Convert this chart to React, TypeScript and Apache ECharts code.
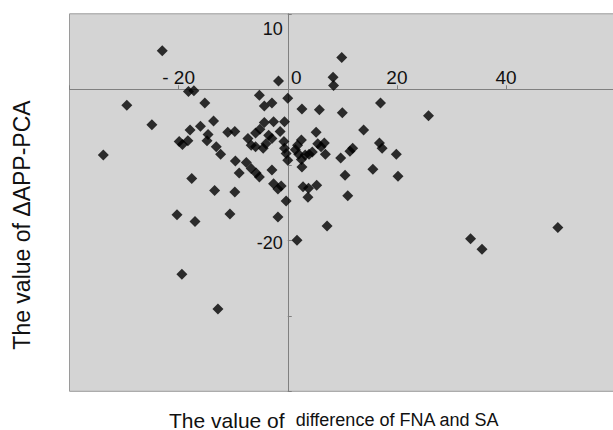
import React, { useEffect, useRef } from "react";
import * as echarts from "echarts";

// Difference of FNA and SA (x) vs ΔAPP-PCA (y)
const xValues: number[] = [
  -23.0, -29.5, -24.9, -33.8, -18.2, -17.2, -15.2, -13.6, -16.0, -17.9,
  -14.6, -14.8, -19.9, -19.3, -18.3, -13.1, -12.3, -11.0, -9.7, -9.6,
  -8.9, -17.6, -13.4, -9.7, -20.3, -17.0, -10.6, -19.4, -12.8, -1.7,
  -5.2, -4.3, -2.9, 0.0, -4.3, -2.6, -0.6, -5.1, -5.9, -3.5,
  -2.9, -1.4, -7.3, -6.7, -5.9, -4.5, -4.0, -0.7, -0.6, -0.3,
  0.0, -7.6, -6.7, -5.8, -5.2, -2.9, -2.6, -1.8, -1.2, -0.3,
  -1.8, 2.6, 5.8, 5.2, 2.5, 1.8, 1.4, 2.0, 2.5, 3.2,
  3.9, 4.5, 2.6, 5.5, 6.1, 6.9, 6.7, 3.8, 5.3, 2.8,
  3.7, 1.7, 7.2, 8.3, 8.4, 9.9, 10.0, 17.0, 25.8, 13.9,
  16.8, 17.3, 19.9, 11.9, 11.4, 9.7, 10.5, 15.6, 20.2, 11.0,
  33.5, 35.6, 49.5,
];
const yValues: number[] = [
  5.1, -2.1, -4.7, -8.7, -0.3, -0.2, -1.8, -4.2, -4.9, -5.4,
  -6.0, -6.8, -6.9, -7.3, -6.8, -7.6, -8.6, -5.7, -5.6, -9.5,
  -11.1, -11.8, -13.4, -13.6, -16.6, -17.5, -16.5, -24.5, -29.1, 1.1,
  -0.8, -2.2, -1.8, -1.2, -4.4, -4.3, -4.3, -5.3, -5.8, -6.1,
  -6.5, -5.6, -6.5, -7.4, -7.6, -7.8, -7.2, -6.9, -7.8, -8.5,
  -9.4, -9.7, -10.5, -11.1, -11.6, -10.7, -12.5, -13.2, -12.8, -14.8,
  -16.9, -2.6, -2.7, -5.7, -6.7, -7.4, -8.0, -8.6, -9.3, -8.7,
  -8.6, -8.3, -10.3, -7.2, -7.6, -8.6, -7.1, -13.1, -12.7, -12.9,
  -14.3, -20.0, -18.1, 1.6, 0.5, 4.2, -3.1, -1.8, -3.5, -5.4,
  -7.1, -7.8, -8.6, -7.8, -8.2, -9.1, -11.4, -10.6, -11.5, -14.1,
  -19.8, -21.2, -18.3,
];

const xLabels: Record<number, string> = { [-20]: "- 20", 0: "{z|0}", 20: "20", 40: "40" };
const yLabels: Record<number, string> = { 10: "{t|10}", [-20]: "{m|-20}" };

const xTitleA = "The value of";
const xTitleB = "difference of FNA and SA";
const yTitle = "The value of \u0394APP-PCA";

export default function App() {
  const ref = useRef<HTMLDivElement>(null);
  useEffect(() => {
    if (!ref.current) return;
    const chart = echarts.init(ref.current, null, { renderer: "svg" });
    const font = "'Liberation Sans', Arial, sans-serif";
    const data = xValues.map((x, i) => [x, yValues[i]]);
    const gLeft = 69.5, gTop = 13.8, gW = 544, gH = 377.5;
    const xMin = -40, xMax = 59.7, yMin = -40, yMax = 10;
    // distances from grid edges to the zero lines (labels follow the crossing axes)
    const zeroX = gLeft + ((0 - xMin) / (xMax - xMin)) * gW;
    const zeroY = gTop + ((yMax - 0) / (yMax - yMin)) * gH;
    const xLabelMargin = gTop + gH - zeroY + 2;
    const yLabelMargin = zeroX - gLeft - 5;
    chart.setOption({
      animation: false,
      backgroundColor: "#ffffff",
      grid: {
        left: gLeft,
        top: gTop,
        width: gW,
        height: gH,
        containLabel: false,
        outerBoundsMode: "none",
        show: true,
        backgroundColor: "#d4d4d4",
        borderColor: "#9a9a9a",
        borderWidth: 1,
      },
      xAxis: {
        type: "value",
        min: xMin,
        max: xMax,
        interval: 20,
        splitLine: { show: false },
        axisLine: { onZero: true, lineStyle: { color: "#808080", width: 1 } },
        axisTick: { show: true, inside: true, length: 4, lineStyle: { color: "#808080" } },
        axisLabel: {
          inside: true,
          margin: xLabelMargin,
          color: "#111",
          fontSize: 19,
          fontFamily: font,
          showMaxLabel: false,
          formatter: (v: number) => xLabels[v] ?? "",
          rich: { z: { fontSize: 19, fontFamily: font, color: "#111", padding: [0, 0, 0, 17] } },
        },
      },
      yAxis: {
        type: "value",
        min: yMin,
        max: yMax,
        interval: 10,
        splitLine: { show: false },
        axisLine: { onZero: true, lineStyle: { color: "#808080", width: 1 } },
        axisTick: { show: true, inside: true, length: 4, lineStyle: { color: "#808080" } },
        axisLabel: {
          inside: true,
          align: "right",
          margin: yLabelMargin,
          color: "#111",
          fontSize: 18,
          fontFamily: font,
          formatter: (v: number) => yLabels[v] ?? "",
          rich: {
            t: { fontSize: 18, fontFamily: font, color: "#111", padding: [31, 0, 0, 0] },
            m: { fontSize: 18, fontFamily: font, color: "#111", padding: [6, 0, 0, 0] },
          },
        },
      },
      series: [
        {
          type: "scatter",
          symbol: "diamond",
          symbolSize: 11,
          itemStyle: { color: "#000000" },
          data,
        },
      ],
      graphic: [
        {
          type: "text",
          x: 22,
          y: 225,
          rotation: Math.PI / 2,
          style: {
            text: yTitle,
            fontSize: 23,
            fontFamily: font,
            fill: "#111",
            align: "center",
            verticalAlign: "middle",
          },
        },
        {
          type: "text",
          x: 334,
          y: 420,
          style: {
            text: `{a|${xTitleA}}  {b|${xTitleB}}`,
            fontSize: 19,
            fontFamily: font,
            fill: "#111",
            align: "center",
            verticalAlign: "middle",
            rich: {
              a: { fontSize: 21, fontFamily: font, fill: "#111" },
              b: { fontSize: 18, fontFamily: font, fill: "#111" },
            },
          },
        },
      ],
    });
    return () => chart.dispose();
  }, []);
  return (
    <div
      ref={ref}
      style={{ position: "fixed", left: 0, top: 0, width: 613, height: 430 }}
    />
  );
}
